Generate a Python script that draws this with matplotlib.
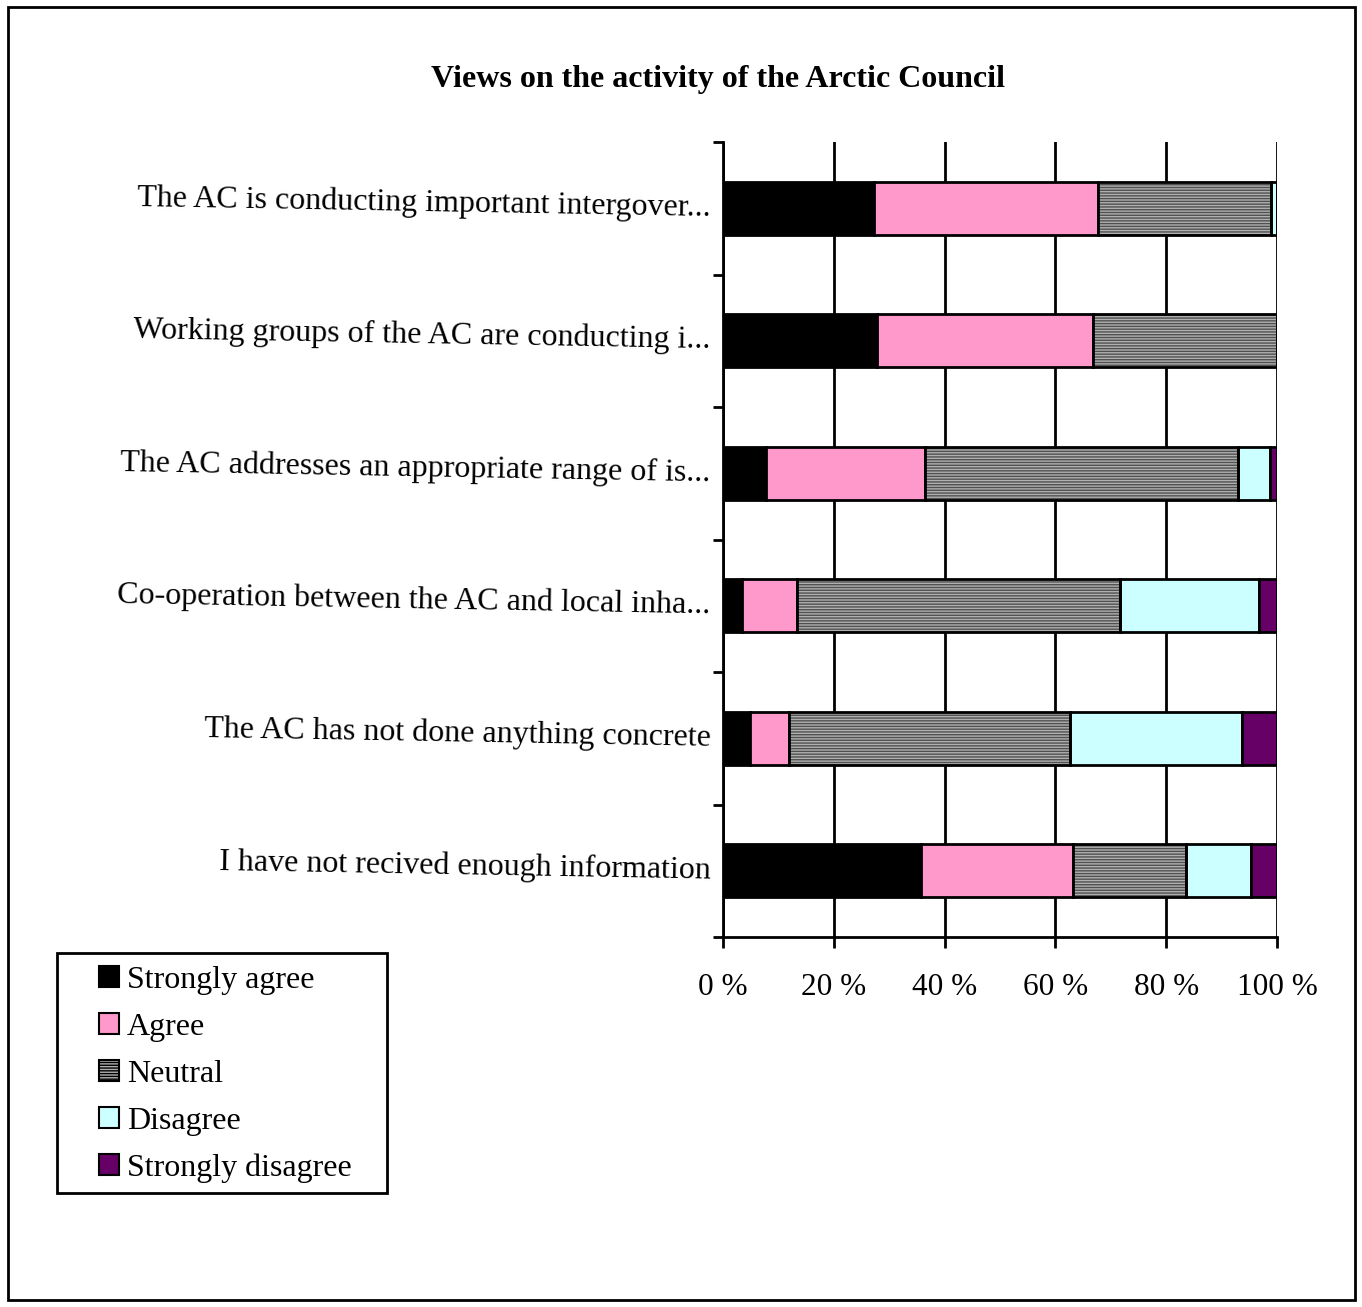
import matplotlib.pyplot as plt
import numpy as np
from matplotlib.patches import Rectangle

plt.rcParams['font.family'] = ['Liberation Serif', 'DejaVu Serif']

# data (percent of respondents)
questions = ["The AC is conducting important intergover...",
             "Working groups of the AC are conducting i...",
             "The AC addresses an appropriate range of is...",
             "Co-operation between the AC and local inha...",
             "The AC has not done anything concrete",
             "I have not recived enough information"]
answers = ["Strongly agree", "Agree", "Neutral", "Disagree", "Strongly disagree"]
strongly_agree = [27.3, 27.8, 7.8, 3.4, 4.9, 35.7]
agree = [40.4, 39.0, 28.7, 10.0, 7.0, 27.5]
neutral = [31.2, 33.2, 56.5, 58.3, 50.7, 20.4]
disagree = [1.1, 0.0, 5.7, 25.1, 31.1, 11.7]
strongly_disagree = [0.0, 0.0, 1.3, 3.2, 6.3, 4.7]
colors = ['#000000', '#FF99CC', '#B0B0B0', '#CCFFFF', '#660066']
xticklabels = ['0 %', '20 %', '40 %', '60 %', '80 %', '100 %']

fig = plt.figure(figsize=(13.62, 13.07), dpi=100)
ax = fig.add_axes([723/1362, 1-937/1307, 554/1362, 795/1307])

series = [strongly_agree, agree, neutral, disagree, strongly_disagree]
y = np.arange(len(questions))
left = np.zeros(len(questions))
handles = []
for i, vals in enumerate(series):
    vals = np.array(vals)
    if answers[i] == "Neutral":
        ax.barh(y, vals, left=left, height=0.4, color=colors[i], hatch='------',
                edgecolor='#505050', linewidth=0, zorder=3)
        ax.barh(y, vals, left=left, height=0.4, fill=False, edgecolor='black',
                linewidth=2, zorder=4)
        h = Rectangle((0, 0), 1, 1, facecolor=colors[i], hatch='------',
                      edgecolor='black', linewidth=1.5)
    else:
        ax.barh(y, vals, left=left, height=0.4, color=colors[i],
                edgecolor='black', linewidth=2, zorder=3)
        h = Rectangle((0, 0), 1, 1, facecolor=colors[i], edgecolor='black', linewidth=1.5)
    handles.append(h)
    left += vals

ax.set_xlim(0, 100)
ax.set_ylim(len(questions) - 0.5, -0.5)
ax.set_xticks(np.arange(0, 101, 20))
ax.set_xticklabels(xticklabels, fontsize=22.5)
ax.set_yticks(y)
ax.set_yticklabels(questions, fontsize=23, rotation=-1, rotation_mode='anchor', va='center')
ax.set_yticks(np.arange(-0.5, len(questions)), minor=True)
ax.tick_params(axis='y', which='major', length=0, pad=9)
ax.tick_params(axis='y', which='minor', length=7, width=2, direction='out')
ax.tick_params(axis='x', length=8, width=2, direction='out', pad=18)
ax.grid(axis='x', color='black', linewidth=2, zorder=0)
for s in ['top', 'right']:
    ax.spines[s].set_visible(False)
for s in ['left', 'bottom']:
    ax.spines[s].set_linewidth(2)

fig.text(718/1362, 1-80/1307, "Views on the activity of the Arctic Council",
         ha='center', va='center', fontsize=23, fontweight='bold')

leg = fig.legend(handles, answers, loc='upper left',
                 bbox_to_anchor=(99/1362, 1-966/1307), fontsize=23,
                 frameon=False, handlelength=0.63, handleheight=0.63,
                 handletextpad=0.25, labelspacing=0.56, borderpad=0,
                 borderaxespad=0)

# legend frame
fig.patches.append(Rectangle((57/1362, 1-1193/1307), 330/1362, 240/1307,
                             transform=fig.transFigure, fill=False,
                             edgecolor='black', linewidth=2))
# outer border
fig.patches.append(Rectangle((8/1362, 7/1307), 1347/1362, 1293/1307,
                             transform=fig.transFigure, fill=False,
                             edgecolor='black', linewidth=2))

fig.savefig('out.png', dpi=100)
